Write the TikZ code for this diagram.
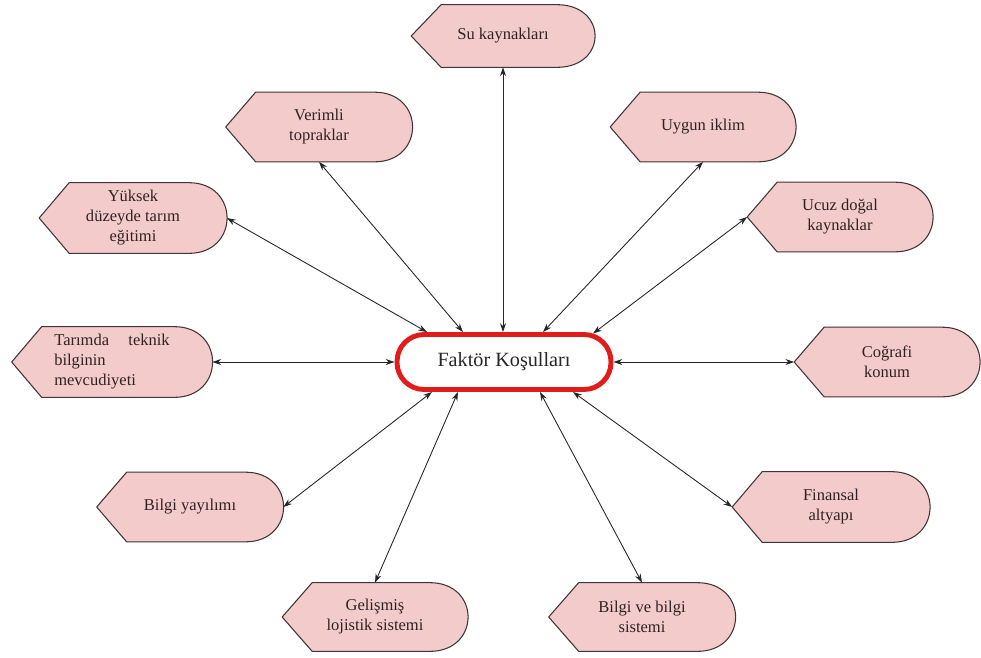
\documentclass[tikz,border=0pt]{standalone}
\usepackage{fontspec}
\setmainfont{Liberation Serif}
\usetikzlibrary{arrows.meta,calc,backgrounds}
\definecolor{boxfill}{RGB}{243,203,203}
\definecolor{boxline}{RGB}{66,52,52}
\definecolor{boxtext}{RGB}{48,34,34}
\definecolor{hubred}{RGB}{224,28,28}
\begin{document}
\begin{tikzpicture}[x=0.02cm,y=-0.02cm,
  factor/.style={inner sep=0pt, align=center, text=boxtext,
    font=\fontsize{9.4}{11.4}\selectfont,
    minimum width=3.72cm, minimum height=1.38cm},
  hub/.style={draw=hubred, line width=2.8pt, rounded corners=0.54cm,
    minimum width=4.28cm, minimum height=1.1cm, inner sep=0pt,
    font=\fontsize{11.5}{13}\selectfont, text=black!85},
  link/.style={draw=black!85, line width=0.5pt,
    {Stealth[length=5pt,width=3.4pt]}-{Stealth[length=5pt,width=3.4pt]}}
]
\useasboundingbox (0,0) rectangle (981,657);

% central hub
\node[hub] (hub) at (504,362) {Faktör Koşulları};

% surrounding factors
\node[factor, minimum width=3.66cm, minimum height=1.24cm] (su) at (503,36) {Su kaynakları};
\node[factor] (ver) at (319,127) {Verimli\\topraklar};
\node[factor, minimum width=3.7cm] (uyg) at (703,127) {Uygun iklim};
\node[factor, minimum width=3.74cm, minimum height=1.4cm] (yuk) at (133,218) {Yüksek\\düzeyde tarım\\eğitimi};
\node[factor, minimum width=3.7cm] (ucu) at (840,217) {Ucuz doğal\\kaynaklar};
\node[factor, align=left, minimum width=4.0cm, minimum height=1.4cm] (tar) at (112,362) {Tarımda\hspace{11pt}teknik\\bilginin\\mevcudiyeti};
\node[factor, minimum width=3.7cm] (cog) at (887,362) {Coğrafi\\konum};
\node[factor] (bil) at (190,507) {Bilgi yayılımı};
\node[factor, minimum width=3.94cm, minimum height=1.4cm] (fin) at (831,507) {Finansal\\altyapı};
\node[factor, minimum width=3.7cm, minimum height=1.36cm] (gel) at (375,617) {Gelişmiş\\lojistik sistemi};
\node[factor, minimum height=1.36cm] (bvb) at (642,617) {Bilgi ve bilgi\\sistemi};

% display-shaped outlines behind the factor texts
\begin{scope}[on background layer]
  \foreach \n in {su,ver,uyg,yuk,ucu,tar,cog,bil,fin,gel,bvb}{
    \path[draw=boxline, fill=boxfill, line width=0.6pt, line join=round]
      (\n.west) -- ($(\n.north west)+(30,0)$) -- ($(\n.north east)+(-38,0)$)
      .. controls ($(\n.north east)+(13,0)$) and ($(\n.south east)+(13,0)$) ..
      ($(\n.south east)+(-38,0)$) -- ($(\n.south west)+(30,0)$) -- cycle;
  }
\end{scope}

% connectors
\draw[link] (su.south) -- ($(hub.north)+(-1,0)$);
\draw[link] (ver.south) -- ($(hub.north)+(-41,0)$);
\draw[link] (uyg.south) -- ($(hub.north)+(39,0)$);
\draw[link] (yuk.east) -- ($(hub.north)+(-77,0)$);
\draw[link] (ucu.west) -- ($(hub.north)+(89,1.5)$);
\draw[link] (tar.east) -- (hub.west);
\draw[link] (cog.west) -- (hub.east);
\draw[link] (bil.east) -- ($(hub.south)+(-72,0)$);
\draw[link] (gel.north) -- ($(hub.south)+(-46,0)$);
\draw[link] (bvb.north) -- ($(hub.south)+(36,0)$);
\draw[link] (fin.west) -- ($(hub.south)+(69,0)$);
\end{tikzpicture}
\end{document}
